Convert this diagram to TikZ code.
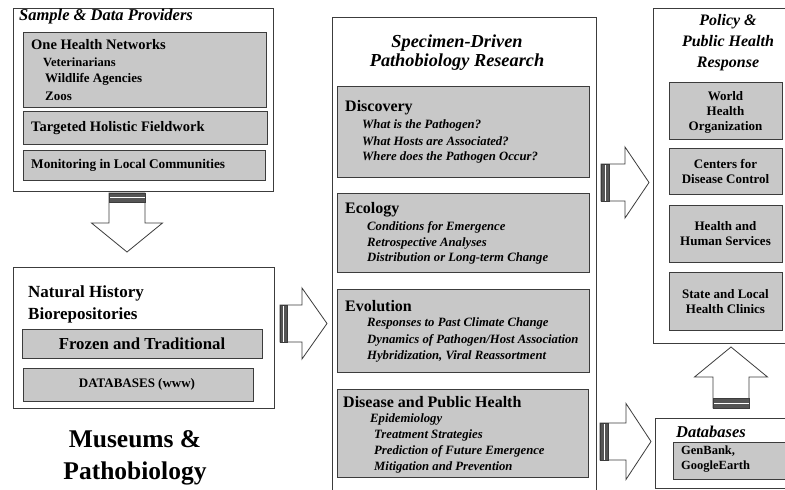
\documentclass[tikz,border=0pt]{standalone}
\usepackage{fontspec}
\setmainfont{Liberation Serif}
\newcommand\fsz[2]{\fontsize{#1}{#2}\selectfont}
\newcommand\stripedarrow[7]{%
\begin{scope}[shift={#1}, rotate=#2]
 \draw[arrowline] (0,-#4) -- (#3-#6,-#4) -- (#3-#6,-#5) -- (#3,0) -- (#3-#6,#5) -- (#3-#6,#4) -- (0,#4) -- cycle;
 \fill[stripecol] (0,-#4) rectangle (#7,#4);
 \draw[white, line width=0.9pt] (#7*0.5,-#4) -- (#7*0.5,#4);
 \draw[arrowline, fill=none] (0,-#4) rectangle (#7,#4);
\end{scope}}
\definecolor{boxgray}{RGB}{200,200,200}
\definecolor{edgegray}{RGB}{60,60,60}
\definecolor{stripecol}{RGB}{85,85,85}
\begin{document}
\begin{tikzpicture}[x=1pt,y=-1pt,
  outerbox/.style={draw=edgegray, line width=1pt, fill=white, anchor=north west, inner sep=0pt},
  gbox/.style={draw=edgegray, line width=1.3pt, fill=boxgray, anchor=north west, inner sep=0pt},
  arrowline/.style={draw=edgegray, line width=0.8pt, fill=white, line join=miter},
  lbl/.style={inner sep=0pt, anchor=west, text=black},
  ctr/.style={inner sep=0pt, anchor=center, align=center, text=black},
  hb/.style={font=\fsz{14.5}{17}\bfseries},
  sb/.style={font=\fsz{13}{15}\bfseries},
  bi/.style={font=\fsz{12.7}{15}\bfseries\itshape},
  ti/.style={font=\fsz{16.5}{18}\bfseries\itshape}]
\useasboundingbox[fill=white] (0,0) rectangle (785,490);

% ---------- Sample & Data Providers ----------
\node[outerbox, minimum width=260, minimum height=183] (prov) at (13,8) {};
\node[lbl, ti] (provt) at (19,17) {Sample \& Data Providers};
\node[gbox, minimum width=243, minimum height=75] (onehealth) at (23,32) {};
\node[lbl, hb] (oht) at (31,45) {One Health Networks};
\node[lbl, font=\fsz{12.5}{15}\bfseries] (vet) at (43,62) {Veterinarians};
\node[lbl, font=\fsz{13}{15}\bfseries] (wild) at (45,79) {Wildlife Agencies};
\node[lbl, font=\fsz{13}{15}\bfseries] (zoo) at (45,96) {Zoos};
\node[gbox, minimum width=244, minimum height=33] (targeted) at (23,111) {};
\node[lbl, hb] (targt) at (31,128) {Targeted Holistic Fieldwork};
\node[gbox, minimum width=242, minimum height=30] (monitor) at (23,150) {};
\node[lbl, font=\fsz{13.3}{16}\bfseries] (mont) at (31,165) {Monitoring in Local Communities};

% down arrow
\stripedarrow{(127,193)}{-90}{59}{18}{35.5}{29}{9}

% ---------- Natural History Biorepositories ----------
\node[outerbox, minimum width=261, minimum height=141] (nhb) at (13,267) {};
\node[lbl, font=\fsz{17}{20}\bfseries] (nhbt1) at (28,293) {Natural History};
\node[lbl, font=\fsz{17}{20}\bfseries] (nhbt2) at (28,315) {Biorepositories};
\node[gbox, minimum width=240, minimum height=29] (frozen) at (22,329) {};
\node[ctr, font=\fsz{16.8}{18}\bfseries] (frozent) at (142,343.5) {Frozen and Traditional};
\node[gbox, minimum width=230, minimum height=33] (dbwww) at (23,368) {};
\node[ctr, font=\fsz{13}{15}\bfseries] (dbwwwt) at (137,384.5) {DATABASES (www)};
\node[ctr, font=\fsz{25.5}{32}\bfseries] (museums) at (135,458) {Museums \&\\Pathobiology};

% right arrow to research
\stripedarrow{(280,323.5)}{0}{47}{18.5}{35.5}{25}{7}

% ---------- Specimen-Driven Pathobiology Research ----------
\draw[draw=edgegray, line width=1pt] (332,491) -- (332,17) -- (596,17) -- (596,491);
\node[ctr, font=\fsz{18.3}{18.5}\bfseries\itshape] (rest) at (457,52.5) {Specimen-Driven\\Pathobiology Research};

\node[gbox, minimum width=252, minimum height=91] (disc) at (337,86) {};
\node[lbl, font=\fsz{16}{18}\bfseries] (disct) at (345,108) {Discovery};
\node[lbl, bi] (d1) at (362,125) {What is the Pathogen?};
\node[lbl, bi] (d2) at (362,141) {What Hosts are Associated?};
\node[lbl, bi] (d3) at (362,157) {Where does the Pathogen Occur?};

\node[gbox, minimum width=252, minimum height=79] (eco) at (337,193) {};
\node[lbl, font=\fsz{16}{18}\bfseries] (ecot) at (345,210) {Ecology};
\node[lbl, bi] (e1) at (367,227) {Conditions for Emergence};
\node[lbl, bi] (e2) at (367,243) {Retrospective Analyses};
\node[lbl, bi] (e3) at (367,258) {Distribution or Long-term Change};

\node[gbox, minimum width=252, minimum height=83] (evo) at (337,289) {};
\node[lbl, font=\fsz{16}{18}\bfseries] (evot) at (345,306) {Evolution};
\node[lbl, bi] (v1) at (367,323) {Responses to Past Climate Change};
\node[lbl, bi] (v2) at (367,340) {Dynamics of Pathogen/Host Association};
\node[lbl, bi] (v3) at (367,356) {Hybridization, Viral Reassortment};

\node[gbox, minimum width=251, minimum height=88] (dis) at (337,389) {};
\node[lbl, font=\fsz{16}{18}\bfseries] (dist) at (343,402) {Disease and Public Health};
\node[lbl, bi] (p1) at (370,419) {Epidemiology};
\node[lbl, bi] (p2) at (374,435) {Treatment Strategies};
\node[lbl, bi] (p3) at (374,451) {Prediction of Future Emergence};
\node[lbl, bi] (p4) at (374,467) {Mitigation and Prevention};

% right arrows
\stripedarrow{(601,182.5)}{0}{48}{18.5}{35.5}{24}{8}
\stripedarrow{(600,441.5)}{0}{51}{18.5}{38}{25}{8}

% ---------- Policy & Public Health Response ----------
\draw[draw=edgegray, line width=1pt, fill=white] (786,8) -- (653,8) -- (653,343) -- (786,343);
\node[ctr, font=\fsz{16}{21}\bfseries\itshape] (polt) at (728,43) {Policy \&\\Public Health\\Response};
\node[gbox, minimum width=113, minimum height=57] (who) at (669,82) {};
\node[ctr, sb] (whot) at (725.5,112) {World\\Health\\Organization};
\node[gbox, minimum width=113, minimum height=46] (cdc) at (669,148) {};
\node[ctr, sb] (cdct) at (725.5,171) {Centers for\\Disease Control};
\node[gbox, minimum width=113, minimum height=57] (hhs) at (669,205) {};
\node[ctr, sb] (hhst) at (725.5,233.5) {Health and\\Human Services};
\node[gbox, minimum width=113, minimum height=58] (state) at (669,272) {};
\node[ctr, sb] (statet) at (725.5,301.5) {State and Local\\Health Clinics};

% up arrow
\stripedarrow{(731,408)}{90}{61}{18}{36.5}{30}{10}

% ---------- Databases ----------
\draw[draw=edgegray, line width=1pt, fill=white] (786,418) -- (655,418) -- (655,488) -- (786,488);
\node[lbl, font=\fsz{16.5}{18}\bfseries\itshape] (dbt) at (676,432) {Databases};
\node[gbox, minimum width=112, minimum height=37] (dbin) at (673,442) {};
\node[lbl, font=\fsz{12.5}{14.5}\bfseries, align=left, anchor=north west] (dbint) at (681,446) {GenBank,\\GoogleEarth};
\end{tikzpicture}
\end{document}
